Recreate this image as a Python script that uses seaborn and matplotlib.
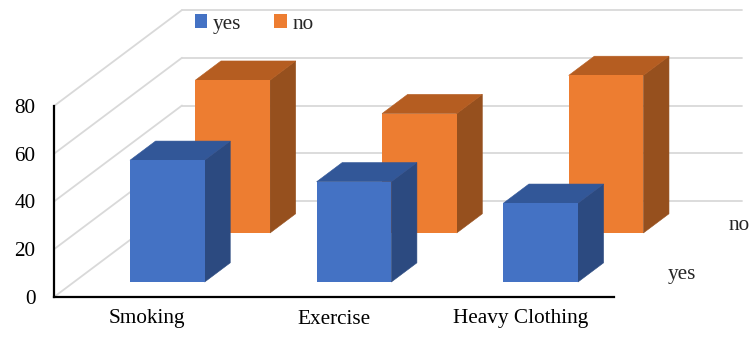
import numpy as np
import pandas as pd
import matplotlib
matplotlib.use("Agg")
import matplotlib.pyplot as plt
from matplotlib.patches import Polygon, Patch
from matplotlib.transforms import ScaledTranslation
import seaborn as sns

# ---- data ----
categories = ["Smoking", "Exercise", "Heavy Clothing"]
yes_values = [51, 42, 33]
no_values = [64, 50, 66]
series_names = ["yes", "no"]
y_ticks = [0, 20, 40, 60, 80]

# ---- style ----
sns.set_style("white")
plt.rcParams["font.family"] = ["Liberation Serif", "DejaVu Serif"]
FS = 15.3

DPI = 100
fig = plt.figure(figsize=(7.52, 3.37), dpi=DPI)
ax = fig.add_axes([54 / 752, 40 / 337, 560 / 752, 191 / 337])

# oblique projection: full depth of the box in pixels (to the right, upwards)
DEPTH_PX = (128, 96)
# each series row: front depth and thickness, as fractions of the full depth
rows = {"yes": (0.156, 0.2), "no": (0.667, 0.2)}
# front, top, side face colours
faces = {
    "yes": ("#4472C4", "#325798", "#2C4A80"),
    "no": ("#ED7D31", "#B55D21", "#96501E"),
}
zorders = {"yes": 3, "no": 2}
# gap between the floor's right end and each depth label, in pixels
label_gap = {"yes": 21, "no": 16}


def depth_shift(d):
    return ScaledTranslation(d * DEPTH_PX[0] / DPI, d * DEPTH_PX[1] / DPI,
                             fig.dpi_scale_trans)


df = pd.DataFrame({
    "category": categories * 2,
    "answer": ["yes"] * len(categories) + ["no"] * len(categories),
    "value": yes_values + no_values,
})

# front faces of the bars, back row first
row_patches = {}
for name in ["no", "yes"]:
    n0 = len(ax.patches)
    sns.barplot(data=df[df["answer"] == name], x="category", y="value",
                order=categories, color=faces[name][0], saturation=1,
                width=0.4, errorbar=None, linewidth=0, ax=ax,
                zorder=zorders[name])
    row_patches[name] = list(ax.patches[n0:])

ax.set_xlim(-0.5, 2.5)
ax.set_ylim(0, 80)
ax.set_yticks(y_ticks)
ax.set_xlabel("")
ax.set_ylabel("")

# pixels per data unit
p0 = ax.transData.transform((0, 0))
sx = ax.transData.transform((1, 0))[0] - p0[0]
sy = ax.transData.transform((0, 1))[1] - p0[1]

# back wall and left wall gridlines
grid_kw = dict(color="#D9D9D9", lw=1.3, clip_on=False, zorder=0.5)
xmin, xmax = ax.get_xlim()
for v in y_ticks:
    ax.plot([xmin, xmax], [v, v], transform=ax.transData + depth_shift(1.0), **grid_kw)
    ax.plot([xmin, xmin + DEPTH_PX[0] / sx], [v, v + DEPTH_PX[1] / sy], **grid_kw)

# top and side faces of each bar
for name, patches in row_patches.items():
    front_d, thick = rows[name]
    trans = ax.transData + depth_shift(front_d)
    ddx = thick * DEPTH_PX[0] / sx
    ddy = thick * DEPTH_PX[1] / sy
    z = zorders[name]
    for p in patches:
        p.set_transform(trans)
        p.set_clip_on(False)
        x0, w, h = p.get_x(), p.get_width(), p.get_height()
        top = [(x0, h), (x0 + w, h), (x0 + w + ddx, h + ddy), (x0 + ddx, h + ddy)]
        side = [(x0 + w, 0), (x0 + w, h), (x0 + w + ddx, h + ddy), (x0 + w + ddx, ddy)]
        for verts, col in ((side, faces[name][2]), (top, faces[name][1])):
            ax.add_patch(Polygon(verts, closed=True, facecolor=col, edgecolor=col,
                                 lw=0.4, transform=trans, clip_on=False, zorder=z - 0.1))

# depth axis labels
for name in series_names:
    front_d, thick = rows[name]
    mid = front_d + thick / 2
    ax.text(xmax, 0, name, fontsize=FS, ha="left", va="center", clip_on=False,
            transform=ax.transData + depth_shift(mid)
            + ScaledTranslation(label_gap[name] / DPI, -2 / DPI, fig.dpi_scale_trans))

# axes frame
sns.despine(ax=ax)
for s in ("left", "bottom"):
    ax.spines[s].set_color("black")
    ax.spines[s].set_linewidth(1.6)
    ax.spines[s].set_zorder(4)
ax.tick_params(axis="both", length=0, labelsize=FS, colors="black")
ax.tick_params(axis="y", pad=13.5)
ax.tick_params(axis="x", pad=9)

# legend
handles = [Patch(facecolor=faces[n][0], edgecolor="none") for n in series_names]
fig.legend(handles, series_names, loc="center", bbox_to_anchor=(254 / 752, 1 - 24 / 337),
           ncol=2, frameon=False, fontsize=FS, handlelength=0.6, handleheight=0.6,
           handletextpad=0.25, columnspacing=1.55)

fig.savefig("out.png", dpi=DPI)
